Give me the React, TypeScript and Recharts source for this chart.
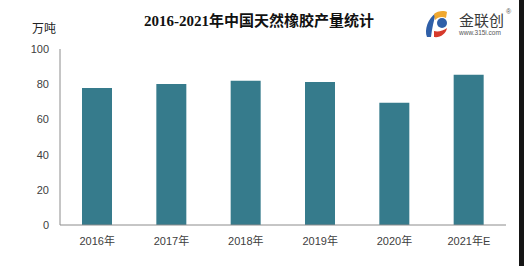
import React from 'react';
import { BarChart, Bar, XAxis, YAxis } from 'recharts';

const categories = ['2016年', '2017年', '2018年', '2019年', '2020年', '2021年E'];
const production = [77.9, 80.1, 81.9, 81.3, 69.4, 85.3];
const yTicks = [0, 20, 40, 60, 80, 100];

const data = categories.map((c, i) => ({ year: c, value: production[i] }));

const tickFont = { fontFamily: '"Liberation Sans", "Noto Sans CJK SC", sans-serif', fontSize: 11, fill: '#404040' };

export default function App() {
  return (
    <div style={{ position: 'absolute', left: 0, top: 0, width: 524, height: 266, background: '#fff', overflow: 'hidden' }}>
      <BarChart
        width={524}
        height={266}
        data={data}
        margin={{ top: 49, right: 18, bottom: 11, left: 0 }}
      >
        <XAxis
          dataKey="year"
          height={30}
          axisLine={{ stroke: '#8c8c8c', strokeWidth: 1 }}
          tickLine={false}
          tick={tickFont}
          tickMargin={6}
          interval={0}
        />
        <YAxis
          width={60}
          domain={[0, 100]}
          ticks={yTicks}
          axisLine={{ stroke: '#8c8c8c', strokeWidth: 1 }}
          tickLine={false}
          tick={tickFont}
          tickMargin={5}
        />
        <Bar dataKey="value" fill="#367b8c" barSize={30} isAnimationActive={false} />
      </BarChart>
      <svg width={524} height={266} style={{ position: 'absolute', left: 0, top: 0, pointerEvents: 'none' }}>
        <text x={259} y={26} textAnchor="middle" fontFamily='"Liberation Serif", "Noto Sans CJK SC", serif' fontWeight="bold" fontSize={15} fill="#111">
          2016-2021年中国天然橡胶产量统计
        </text>
        <text x={32} y={33} fontFamily='"Noto Sans CJK SC", sans-serif' fontSize={12} fill="#222">万吨</text>
        {/* logo */}
        <path d="M427,37 C424,30 428,18 436,13 C434,20 432,28 431,37 Z" fill="#2f5fa8" />
        <path d="M434,14 C437,11 444,10 447,12 L446,18 C442,16 438,17 435,20 Z" fill="#f0a830" />
        <path d="M434,31 C438,32 443,31 447,28 C446,34 440,38 434,37 Z" fill="#d63a2c" />
        <circle cx={442} cy={23} r={5} fill="#2f5fa8" />
        <text x={459} y={26} fontFamily='"Noto Sans CJK SC", sans-serif' fontSize={15} fill="#3a3a3a">金联创</text>
        <text x={506} y={14} fontFamily='"Liberation Sans", sans-serif' fontSize={7} fill="#555">®</text>
        <text x={459} y={35} fontFamily='"Liberation Sans", sans-serif' fontSize={6.5} fill="#555">www.315i.com</text>
        <rect x={519} y={0} width={5} height={266} fill="#151515" />
      </svg>
    </div>
  );
}
